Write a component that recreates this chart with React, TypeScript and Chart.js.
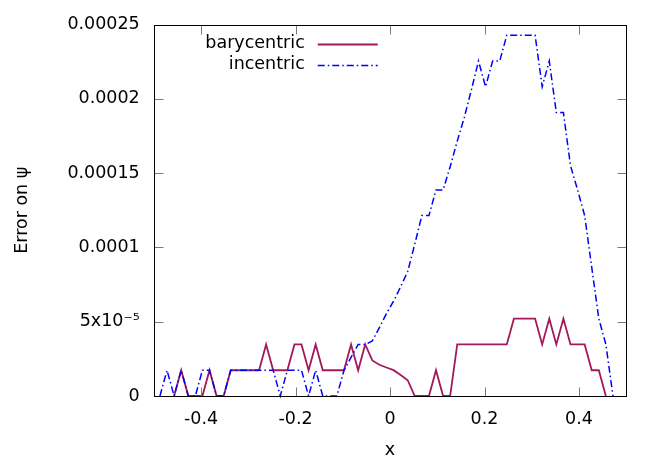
import React, { useEffect, useRef } from "react";
import { Chart, registerables } from "chart.js";

Chart.register(...registerables);

// sample positions along x
const xGrid = [
  -0.4869, -0.4719, -0.4569, -0.4419, -0.4269, -0.412, -0.397, -0.382, -0.367, -0.352,
  -0.3371, -0.3221, -0.3071, -0.2921, -0.2771, -0.2622, -0.2472, -0.2322, -0.2172, -0.2022,
  -0.1873, -0.1723, -0.1573, -0.1423, -0.1273, -0.1124, -0.0974, -0.0824, -0.0674, -0.0524,
  -0.0375, -0.0225, -0.0075, 0.0075, 0.0225, 0.0375, 0.0524, 0.0674, 0.0824, 0.0974,
  0.1124, 0.1273, 0.1423, 0.1573, 0.1723, 0.1873, 0.2022, 0.2172, 0.2322, 0.2472,
  0.2622, 0.2771, 0.2921, 0.3071, 0.3221, 0.3371, 0.352, 0.367, 0.382, 0.397,
  0.412, 0.4269, 0.4419, 0.4569, 0.4719,
];

const barycentric: (number | null)[] = [
  null, null, 0, 1.734e-5, 0, 0, 0, 1.734e-5, 0, 0,
  1.734e-5, 1.734e-5, 1.734e-5, 1.734e-5, 1.734e-5, 3.468e-5, 1.734e-5, 1.734e-5, 1.734e-5, 3.468e-5,
  3.468e-5, 1.734e-5, 3.468e-5, 1.734e-5, 1.734e-5, 1.734e-5, 1.734e-5, 3.468e-5, 1.734e-5, 3.468e-5,
  2.39e-5, 2.1e-5, 1.92e-5, 1.74e-5, 1.41e-5, 1.06e-5, 0, 0, 0, 1.734e-5,
  0, 0, 3.468e-5, 3.468e-5, 3.468e-5, 3.468e-5, 3.468e-5, 3.468e-5, 3.468e-5, 3.468e-5,
  5.202e-5, 5.202e-5, 5.202e-5, 5.202e-5, 3.468e-5, 5.202e-5, 3.468e-5, 5.202e-5, 3.468e-5, 3.468e-5,
  3.468e-5, 1.734e-5, 1.734e-5, 0, null,
];

const incentric: (number | null)[] = [
  0, 1.734e-5, 0, 1.734e-5, 0, 0, 1.734e-5, 1.734e-5, 0, 0,
  1.734e-5, 1.734e-5, 1.734e-5, 1.734e-5, 1.734e-5, 1.734e-5, 1.734e-5, 0, 1.734e-5, 1.734e-5,
  1.734e-5, 0, 1.734e-5, 0, 0, 0, 1.734e-5, 2.6e-5, 3.468e-5, 3.468e-5,
  3.7e-5, 4.6e-5, 5.55e-5, 6.38e-5, 7.35e-5, 8.38e-5, 1.022e-4, 1.214e-4, 1.214e-4, 1.387e-4,
  1.387e-4, 1.543e-4, 1.715e-4, 1.875e-4, 2.061e-4, 2.254e-4, 2.081e-4, 2.254e-4, 2.254e-4, 2.428e-4,
  2.428e-4, 2.428e-4, 2.428e-4, 2.428e-4, 2.081e-4, 2.254e-4, 1.907e-4, 1.907e-4, 1.55e-4, 1.387e-4,
  1.214e-4, 8.67e-5, 5.2e-5, 3.47e-5, 0,
];

const seriesNames = ["barycentric", "incentric"];
const seriesColors = ["#a3195b", "#0000ff"];
const xTickValues = [-0.4, -0.2, 0, 0.2, 0.4];
const xTickLabels = ["-0.4", "-0.2", "0", "0.2", "0.4"];
const yTickValues = [0, 0.00005, 0.0001, 0.00015, 0.0002, 0.00025];
const yTickLabels = ["0", "5x10\u207B\u2075", "0.0001", "0.00015", "0.0002", "0.00025"];
const xTitle = "x";
const yTitle = "Error on \u03C8";

const FONT = "'DejaVu Sans', sans-serif";
const FONT_SIZE = 17.5;
const BLUE_DASH = [7, 3, 1.5, 3];

const framePlugin = {
  id: "gnuFrame",
  afterDatasetsDraw(chart: any) {
    const { ctx, chartArea: a, scales } = chart;
    const L = Math.round(a.left) + 0.5;
    const R = Math.round(a.right) + 0.5;
    const T = Math.round(a.top) + 0.5;
    const B = Math.round(a.bottom) + 0.5;
    ctx.save();
    const line = (x1: number, y1: number, x2: number, y2: number) => {
      ctx.beginPath();
      ctx.moveTo(x1, y1);
      ctx.lineTo(x2, y2);
      ctx.stroke();
    };
    ctx.lineWidth = 1;
    ctx.strokeStyle = "#7a7a7a";
    const tl = 9;
    xTickValues.forEach((v) => {
      const px = Math.round(scales.x.getPixelForValue(v)) + 0.5;
      line(px, B, px, B - tl);
      line(px, T, px, T + tl);
    });
    yTickValues.forEach((v) => {
      const py = Math.round(scales.y.getPixelForValue(v)) + 0.5;
      line(L, py, L + tl, py);
      line(R, py, R - tl, py);
    });
    ctx.strokeStyle = "#000";
    ctx.strokeRect(L, T, R - L, B - T);

    // key (legend) at top-left inside
    ctx.font = `${FONT_SIZE}px ${FONT}`;
    ctx.fillStyle = "#000";
    ctx.textAlign = "right";
    ctx.textBaseline = "middle";
    const textRight = a.left + 151;
    const lineStart = a.left + 164;
    const lineEnd = a.left + 224;
    const rows = [a.top + 19, a.top + 40];
    seriesNames.forEach((name, i) => {
      const y = rows[i];
      ctx.fillText(name, textRight, y);
      ctx.strokeStyle = seriesColors[i];
      ctx.lineWidth = i === 0 ? 1.8 : 1.5;
      ctx.setLineDash(i === 0 ? [] : BLUE_DASH);
      line(lineStart, Math.round(y) + 0.5, lineEnd, Math.round(y) + 0.5);
      ctx.setLineDash([]);
    });
    ctx.restore();
  },
};

export default function App() {
  const ref = useRef<HTMLCanvasElement>(null);

  useEffect(() => {
    const canvas = ref.current;
    if (!canvas) return;
    const chart = new Chart(canvas, {
      type: "line",
      data: {
        datasets: [
          {
            label: seriesNames[0],
            data: xGrid.map((x, i) => ({ x, y: barycentric[i] })) as any,
            borderColor: seriesColors[0],
            borderWidth: 1.8,
            pointRadius: 0,
            tension: 0,
            fill: false,
            spanGaps: false,
            order: 1,
            clip: 4,
          },
          {
            label: seriesNames[1],
            data: xGrid.map((x, i) => ({ x, y: incentric[i] })) as any,
            borderColor: seriesColors[1],
            borderWidth: 1.5,
            borderDash: BLUE_DASH,
            pointRadius: 0,
            tension: 0,
            fill: false,
            spanGaps: false,
            order: 0,
            clip: 4,
          },
        ],
      },
      options: {
        animation: false,
        responsive: false,
        devicePixelRatio: 1,
        layout: { padding: { top: 20, right: 37.75, left: 0, bottom: 0 } },
        plugins: {
          legend: { display: false },
          tooltip: { enabled: false },
        },
        scales: {
          x: {
            type: "linear",
            min: -0.5,
            max: 0.5,
            grid: { display: false, drawTicks: false },
            border: { display: false },
            afterBuildTicks: (s: any) => {
              s.ticks = xTickValues.map((v) => ({ value: v }));
            },
            afterFit: (s: any) => {
              s.height = 68;
            },
            ticks: {
              autoSkip: false,
              maxRotation: 0,
              padding: 13,
              color: "#000",
              font: { family: FONT, size: FONT_SIZE },
              callback: (v: any) => {
                const i = xTickValues.findIndex((t) => Math.abs(t - Number(v)) < 1e-9);
                return i >= 0 ? xTickLabels[i] : "";
              },
            },
            title: {
              display: true,
              text: xTitle,
              color: "#000",
              font: { family: FONT, size: FONT_SIZE },
              padding: { top: 3, bottom: 3 },
            },
          },
          y: {
            type: "linear",
            min: 0,
            max: 0.00025,
            grid: { display: false, drawTicks: false },
            border: { display: false },
            afterBuildTicks: (s: any) => {
              s.ticks = yTickValues.map((v) => ({ value: v }));
            },
            afterFit: (s: any) => {
              s.width = 153.75;
            },
            ticks: {
              autoSkip: false,
              padding: 14,
              color: "#000",
              font: { family: FONT, size: FONT_SIZE },
              callback: (v: any) => {
                const i = yTickValues.findIndex((t) => Math.abs(t - Number(v)) < 1e-12);
                return i >= 0 ? yTickLabels[i] : "";
              },
            },
            title: {
              display: true,
              text: yTitle,
              color: "#000",
              font: { family: FONT, size: FONT_SIZE },
              padding: { top: 12, bottom: 12 },
            },
          },
        },
      },
      plugins: [framePlugin],
    } as any);
    return () => chart.destroy();
  }, []);

  return (
    <div style={{ position: "absolute", left: 0, top: 0, width: 664, height: 464, background: "#fff" }}>
      <canvas ref={ref} width={664} height={464} style={{ display: "block" }} />
    </div>
  );
}
